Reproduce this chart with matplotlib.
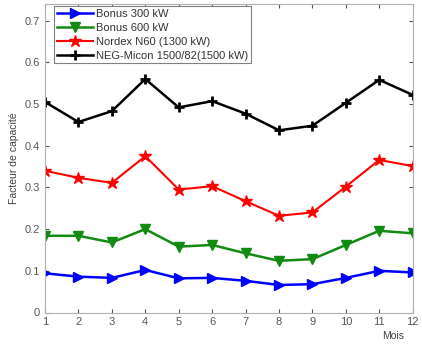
import numpy as np
import matplotlib
matplotlib.use("Agg")
from matplotlib import pyplot as plt

plt.rcParams['font.family'] = ['Liberation Sans', 'DejaVu Sans']

mois = np.arange(1, 13)
bonus_300 = [0.094, 0.086, 0.083, 0.102, 0.082, 0.083, 0.076, 0.066, 0.068, 0.083, 0.100, 0.096]
bonus_600 = [0.184, 0.184, 0.168, 0.200, 0.158, 0.162, 0.142, 0.124, 0.128, 0.162, 0.196, 0.190]
nordex_n60 = [0.340, 0.323, 0.311, 0.375, 0.295, 0.303, 0.267, 0.232, 0.240, 0.302, 0.366, 0.351]
neg_micon = [0.505, 0.457, 0.483, 0.560, 0.492, 0.507, 0.477, 0.437, 0.448, 0.503, 0.558, 0.522]

labels = ["Bonus 300 kW", "Bonus 600 kW", "Nordex N60 (1300 kW)", "NEG-Micon 1500/82(1500 kW)"]

fig = plt.figure(figsize=(4.22, 3.45), dpi=100)
ax = fig.add_axes([45 / 422, 1 - 312.5 / 345, (412.7 - 45) / 422, (312.5 - 4) / 345])

ax.plot(mois, bonus_300, color='#0000ff', marker='>', markersize=7, lw=1.8, label=labels[0])
ax.plot(mois, bonus_600, color='#138a13', marker='v', markersize=7, lw=1.8, label=labels[1])
ax.plot(mois, nordex_n60, color='#ff0000', marker='*', markersize=9, lw=1.5, label=labels[2])
ax.plot(mois, neg_micon, color='black', marker='+', markersize=7, mew=2, lw=1.8, label=labels[3])

ax.set_xlim(1, 12)
ax.set_ylim(0, 0.74)
ax.set_xticks(mois)
ax.set_yticks(np.arange(0, 0.71, 0.1))
ax.set_yticklabels(['0', '0.1', '0.2', '0.3', '0.4', '0.5', '0.6', '0.7'])
ax.tick_params(direction='in', top=True, right=True, labelsize=8, colors='#555555', length=3)
for sp in ax.spines.values():
    sp.set_color('#b0b0b0')

ax.set_ylabel('Facteur de capacité', fontsize=7.5, color='#404040', labelpad=4)
ax.text(393, 345 - 336, 'Mois', transform=None, fontsize=7.5, color='#404040', ha='center', va='center')

leg = ax.legend(loc='upper left', fontsize=8, handlelength=3.2, handletextpad=0.3,
                labelspacing=0.35, borderpad=0.25, borderaxespad=0.2, fancybox=False,
                framealpha=1, edgecolor='#808080', markerscale=1.0,
                bbox_to_anchor=(7 / 368, 1))
leg.get_frame().set_linewidth(0.8)
for t in leg.get_texts():
    t.set_color('#333333')

fig.savefig('out.png', dpi=100)
